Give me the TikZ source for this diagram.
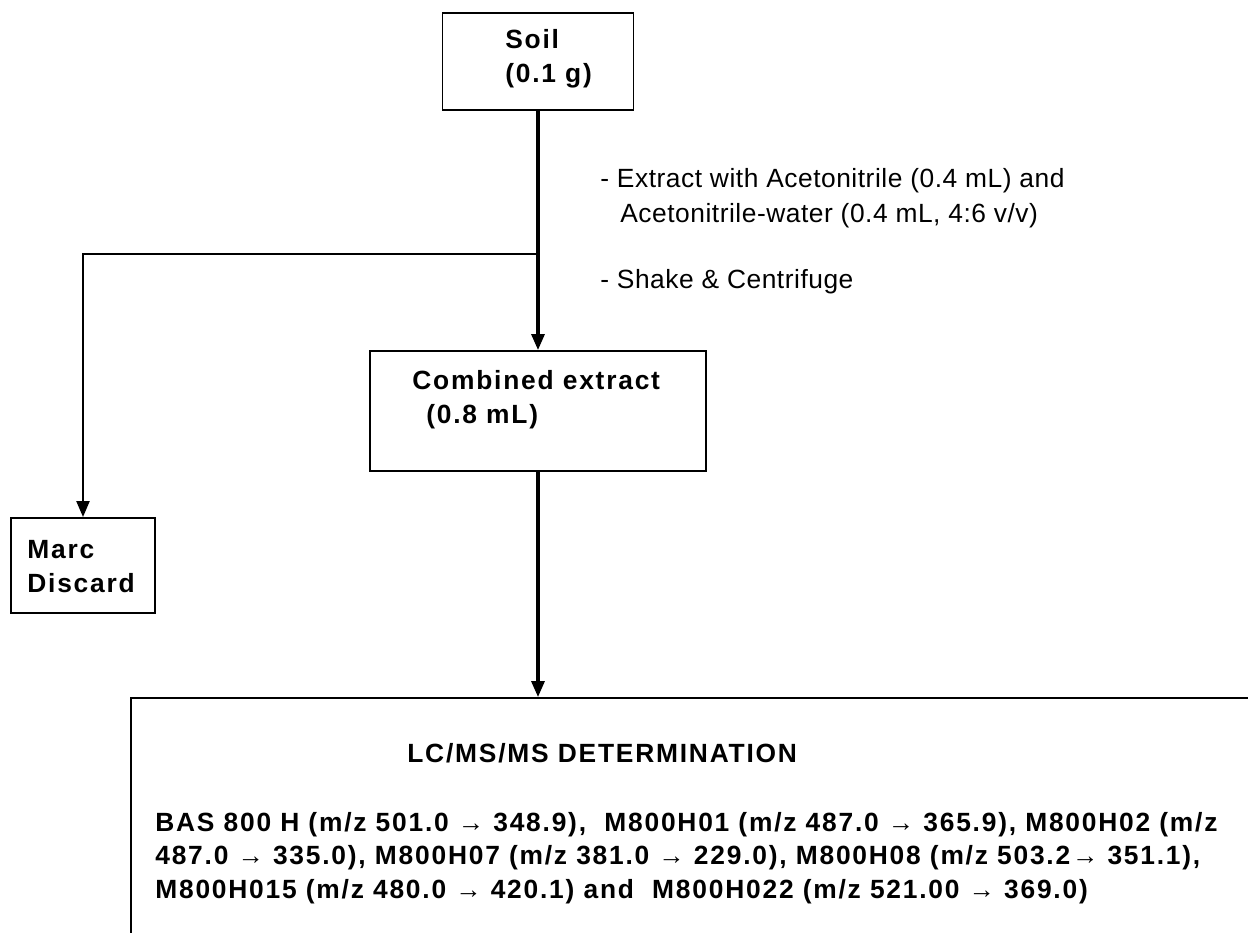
\documentclass[tikz,border=0pt]{standalone}
\usepackage{fontspec}
\setmainfont{Liberation Sans}
\newfontfamily\boxfont[LetterSpace=6.8]{Liberation Sans}
\newfontfamily\notefont[LetterSpace=2]{Liberation Sans}
\usetikzlibrary{arrows.meta}
\begin{document}
\begin{tikzpicture}[x=0.02cm, y=-0.02cm,
    box/.style={draw, line width=1.1pt, inner sep=0pt},
    flow/.style={line width=1.8pt, -{Triangle[length=0.32cm, width=0.26cm]}},
    lbl/.style={anchor=base west, inner sep=0pt, align=left,
        font=\boxfont\bfseries\fontsize{15}{19.3}\selectfont},
    note/.style={anchor=base west, inner sep=0pt, align=left,
        font=\notefont\fontsize{15}{19.9}\selectfont}]
\clip (0, 0) rectangle (1248, 933);
% boxes
\node[box, minimum width=3.82cm, minimum height=1.94cm] (soil) at (538, 61.5) {};
\node[box, minimum width=6.72cm, minimum height=2.40cm] (comb) at (538, 411) {};
\node[box, minimum width=2.88cm, minimum height=1.90cm] (marc) at (83, 565.5) {};
\node[box, minimum width=22.62cm, minimum height=4.98cm] (lc) at (696.5, 822.5) {};
% texts (anchored on the baseline of their last line)
\node[lbl] (soiltxt) at (505, 82) {Soil\\(0.1 g)};
\node[lbl] (combtxt) at (412, 423) {Combined extract\\\hspace*{0.28cm}(0.8 mL)};
\node[lbl] (marctxt) at (27, 592) {Marc\\Discard};
\node[lbl] (lctitle) at (407, 762) {LC/MS/MS DETERMINATION};
\node[lbl, font=\boxfont\bfseries\fontsize{15}{18.8}\selectfont] (lcbody) at (155, 898)
    {BAS 800 H (m/z 501.0 → 348.9),\ \ M800H01 (m/z 487.0 → 365.9), M800H02 (m/z\\
     487.0 → 335.0), M800H07 (m/z 381.0 → 229.0), M800H08 (m/z 503.2→ 351.1),\\
     M800H015 (m/z 480.0 → 420.1) and\ \ M800H022 (m/z 521.00 → 369.0)};
\node[note] (steps) at (600, 288)
    {- Extract with Acetonitrile (0.4 mL) and\\
     \hspace*{0.4cm}Acetonitrile-water (0.4 mL, 4:6 v/v)\\[0.62cm]
     - Shake \& Centrifuge};
% connectors
\coordinate (split) at (538, 254);
\draw[flow] (soil) -- (comb);
\draw[flow, line width=1.3pt] (split) -| (marc.north);
\draw[flow] (comb.south) -- (comb.south |- lc.north);
\end{tikzpicture}
\end{document}
